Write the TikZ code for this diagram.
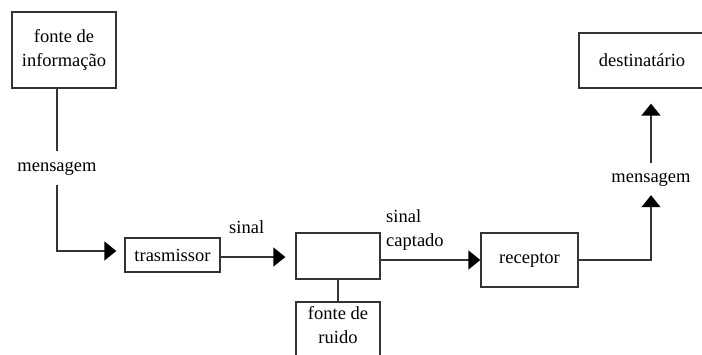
\documentclass[tikz,border=0pt]{standalone}
\usepackage{fontspec}
\setmainfont{Liberation Serif}
\usetikzlibrary{arrows.meta}
\begin{document}
\begin{tikzpicture}[x=1pt,y=-1pt,
  every node/.style={font=\fontsize{18.5}{24.5}\selectfont, text=black},
  blk/.style={draw=black!80, line width=1.3pt, inner sep=0pt, align=center},
  lbl/.style={inner sep=0pt, text height=12pt, text depth=4pt},
  conn/.style={draw=black!80, line width=1.3pt},
  arr/.style={conn, -{Triangle[length=12pt,width=19pt,fill=black,color=black]}}]
\useasboundingbox (0,0) rectangle (702,355);
\node[blk, minimum width=104pt, minimum height=76pt] (src) at (64,50) {fonte de\\informação};
\node[blk, minimum width=95pt, minimum height=34pt] (tx) at (172.5,255) {trasmissor};
\node[blk, minimum width=84pt, minimum height=46pt] (ch) at (338,256) {};
\node[blk, minimum width=84pt, minimum height=60pt] (noise) at (338,332) {};
\node[align=center, inner sep=0pt] (noisetxt) at (338,325) {fonte de\\ruido};
\node[blk, minimum width=97pt, minimum height=54pt] (rx) at (529.5,260) {receptor};
\node[blk, minimum width=126pt, minimum height=55pt] (dst) at (642,60.5) {destinatário};
\node[lbl, minimum height=34pt] (m1) at (57,168) {mensagem};
\node[lbl, minimum height=32pt] (m2) at (651,179) {mensagem};
\node[lbl, anchor=south west] (s1) at (229,238) {sinal};
\node[anchor=west, align=left, inner sep=0pt] (s2) at (386,230) {sinal\\captado};
\draw[conn] (src.south -| m1.north) -- (m1.north);
\draw[arr, shorten >=8pt] (m1.south) |- ([yshift=4pt]tx.west);
\draw[arr, shorten >=10pt] ([yshift=-2pt]tx.east) -- ([yshift=-2pt]tx.east -| ch.west);
\draw[conn] (ch.south) -- (noise.north);
\draw[arr] (ch.east |- rx.west) -- (rx.west);
\draw[arr] (rx.east) -| (m2.south);
\draw[arr, shorten >=15pt] (m2.north) -- (m2.north |- dst.south);
\end{tikzpicture}
\end{document}
